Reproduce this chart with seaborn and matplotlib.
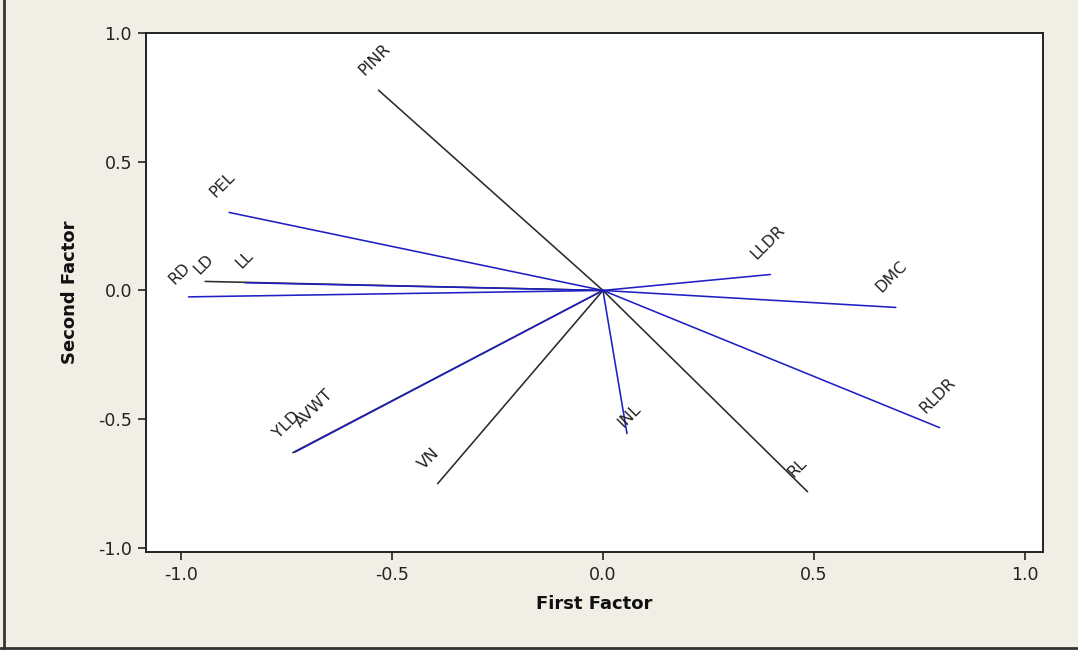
import matplotlib
matplotlib.use("Agg")
import matplotlib.pyplot as plt
from matplotlib.lines import Line2D
import seaborn as sns
import pandas as pd

# ---- data (factor loadings) ----
variables = ["PINR", "PEL", "LD", "LL", "RD", "YLD", "AVWT", "VN", "INL", "RL", "RLDR", "DMC", "LLDR"]
first_factor = [-0.532, -0.886, -0.943, -0.848, -0.982, -0.735, -0.730, -0.392, 0.057, 0.485, 0.798, 0.694, 0.397]
second_factor = [0.778, 0.303, 0.035, 0.030, -0.025, -0.630, -0.628, -0.751, -0.556, -0.782, -0.533, -0.066, 0.062]
line_group = ["black", "blue", "black", "blue", "blue", "black", "blue", "black", "blue", "black", "blue", "blue", "blue"]
x_ticks = [-1.0, -0.5, 0.0, 0.5, 1.0]
y_ticks = [-1.0, -0.5, 0.0, 0.5, 1.0]
x_title = "First Factor"
y_title = "Second Factor"

# ---- style ----
group_colors = {"black": "#2b2b2b", "blue": "#1f1fc4"}
label_nudge = {"AVWT": (20, 10), "RD": (0, -2), "LD": (8, -8), "LL": (10, 0), "INL": (10, -8)}  # px

sns.set_theme(style="white")
plt.rcParams["font.family"] = ["DejaVu Sans"]

rows = []
for v, x, y, g in zip(variables, first_factor, second_factor, line_group):
    rows.append({"var": v, "x": 0.0, "y": 0.0, "order": 0})
    rows.append({"var": v, "x": x, "y": y, "order": 1})
df = pd.DataFrame(rows)
palette = {v: group_colors[g] for v, g in zip(variables, line_group)}

fig = plt.figure(figsize=(10.78, 6.5), dpi=100, facecolor="#f1eee5")
ax = fig.add_axes([146 / 1078, 1 - 552 / 650, (1043 - 146) / 1078, (552 - 33) / 650])
ax.set_facecolor("white")

sns.lineplot(data=df, x="x", y="y", hue="var", units="var", estimator=None,
             sort=False, palette=palette, linewidth=1.15, legend=False, ax=ax)

for v, x, y in zip(variables, first_factor, second_factor):
    dx, dy = label_nudge.get(v, (0, 0))
    ax.annotate(v, xy=(x, y), xytext=(-14 + dx, 14 + dy), textcoords="offset pixels",
                rotation=45, rotation_mode="anchor", ha="left", va="baseline",
                fontsize=11.5, color="#222222")

ax.set_xlim(-1.083, 1.043)
ax.set_ylim(-1.016, 1.0)
ax.set_xticks(x_ticks)
ax.set_yticks(y_ticks)
ax.set_xticklabels([f"{t:.1f}" for t in x_ticks])
ax.set_yticklabels([f"{t:.1f}" for t in y_ticks])
ax.tick_params(axis="both", direction="out", length=6, width=1.2, color="#222222",
               labelsize=12.5, labelcolor="#222222", bottom=True, left=True, pad=4)
for s in ax.spines.values():
    s.set_color("#222222")
    s.set_linewidth(1.4)

ax.set_xlabel(x_title, fontsize=13, fontweight="bold", color="#111111", labelpad=8)
ax.set_ylabel(y_title, fontsize=13, fontweight="bold", color="#111111", labelpad=14)

# window frame (left and bottom dark edges)
fig.add_artist(Line2D([4 / 1078, 4 / 1078], [0, 1], transform=fig.transFigure, color="#333333", lw=2))
fig.add_artist(Line2D([0, 1], [2 / 650, 2 / 650], transform=fig.transFigure, color="#333333", lw=2))

fig.savefig("out.png", dpi=100, facecolor=fig.get_facecolor())
